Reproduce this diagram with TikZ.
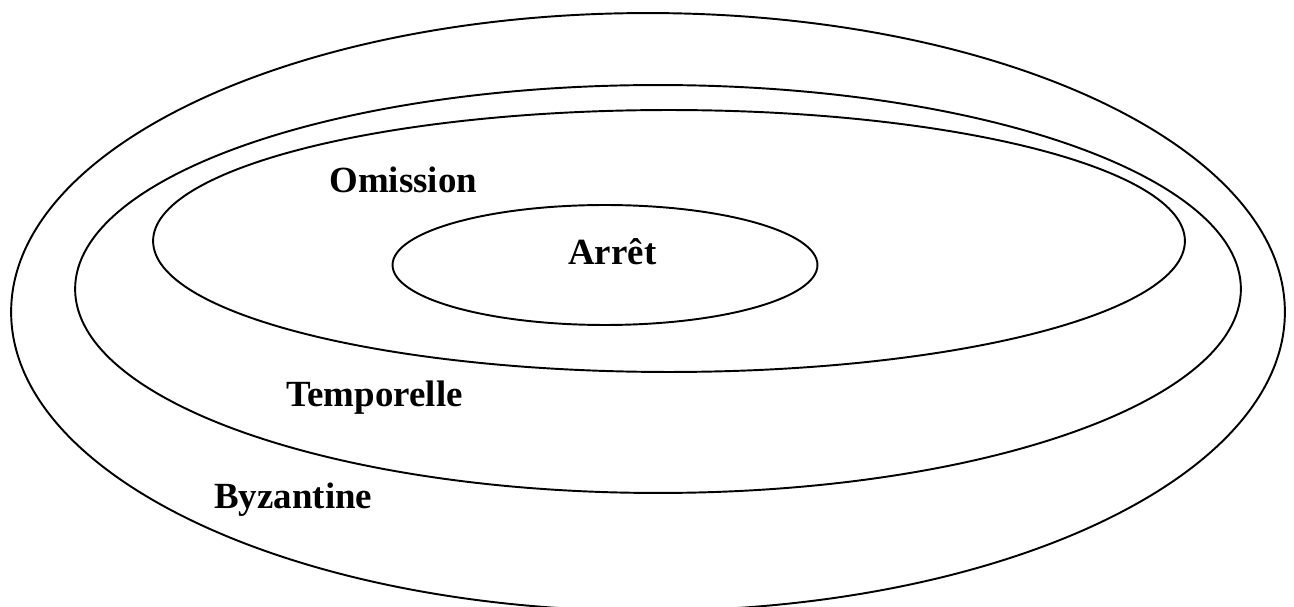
\documentclass[tikz,border=0pt]{standalone}
\usepackage{fontspec}
\setmainfont{Liberation Serif}

\begin{document}
\begin{tikzpicture}[x=0.02cm, y=-0.02cm,
    bord/.style={line width=1.1pt},
    nom/.style={anchor=base west, inner sep=0pt, font=\fontsize{21}{25}\selectfont\bfseries}]
  % --- CADRE ---
  \useasboundingbox (0,0) rectangle (1294,607);

  % Centres des ellipses (en pixels)
  \coordinate (Cbyz) at (648,312);
  \coordinate (Ctmp) at (658,289);
  \coordinate (Comi) at (669,241);
  \coordinate (Carr) at (605,265);

  % --- ELLIPSES IMBRIQUÉES ---
  \draw[bord] (Cbyz) ellipse [x radius=12.74cm, y radius=5.98cm];  % byzantine
  \draw[bord] (Ctmp) ellipse [x radius=11.66cm, y radius=4.08cm];  % temporelle
  \draw[bord] (Comi) ellipse [x radius=10.32cm, y radius=2.62cm];  % omission
  \draw[bord] (Carr) ellipse [x radius=4.25cm, y radius=1.20cm];   % arrêt

  % --- ÉTIQUETTES ---
  \node[nom] (arret) at (568,265) {Arrêt};
  \node[nom] (omission) at (329,193) {Omission};
  \node[nom] (temporelle) at (286,407) {Temporelle};
  \node[nom] (byzantine) at (214,508) {Byzantine};

\end{tikzpicture}
\end{document}
